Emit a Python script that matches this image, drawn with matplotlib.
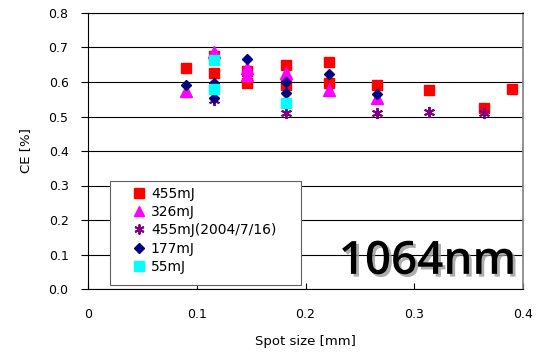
import numpy as np
import matplotlib
matplotlib.use('Agg')
from matplotlib import pyplot as plt
from matplotlib import patheffects
from matplotlib.patches import Rectangle

# data
x_455 = [0.090, 0.116, 0.116, 0.146, 0.146, 0.182, 0.182, 0.222, 0.222, 0.266, 0.314, 0.364, 0.390]
y_455 = [0.640, 0.676, 0.627, 0.632, 0.597, 0.649, 0.591, 0.657, 0.598, 0.592, 0.577, 0.524, 0.579]

x_326 = [0.090, 0.116, 0.146, 0.146, 0.182, 0.222, 0.266]
y_326 = [0.575, 0.688, 0.642, 0.620, 0.625, 0.578, 0.555]

x_455old = [0.116, 0.182, 0.266, 0.314, 0.364]
y_455old = [0.548, 0.511, 0.511, 0.514, 0.511]

x_177 = [0.090, 0.116, 0.116, 0.146, 0.182, 0.182, 0.222, 0.266]
y_177 = [0.592, 0.596, 0.554, 0.666, 0.601, 0.567, 0.623, 0.565]

x_55 = [0.116, 0.116, 0.182]
y_55 = [0.664, 0.579, 0.540]

labels = ['455mJ', '326mJ', '455mJ(2004/7/16)', '177mJ', '55mJ']

plt.rcParams['font.family'] = ['DejaVu Sans']

fig = plt.figure(figsize=(5.45, 3.53), dpi=100)
ax = fig.add_axes([88/545, 1-289/353, (523-88)/545, (289-13)/353])

ax.plot(x_455, y_455, ls='none', marker='s', ms=7.5, color='#ff0000', mec='#ff0000', label=labels[0])
ax.plot(x_326, y_326, ls='none', marker='^', ms=8, color='#ff00ff', mec='#ff00ff', label=labels[1])
ax.plot(x_455old, y_455old, ls='none', marker=(6, 2, 0), ms=8, color='#800080', mew=1.4, label=labels[2])
ax.plot(x_177, y_177, ls='none', marker='D', ms=5.5, color='#000080', mec='#000080', label=labels[3])
ax.plot(x_55, y_55, ls='none', marker='s', ms=7.5, color='#00ffff', mec='#00ffff', label=labels[4])

ax.set_xlim(0, 0.4)
ax.set_ylim(0, 0.8)
ax.set_xticks([0, 0.1, 0.2, 0.3, 0.4])
ax.set_xticklabels(['0', '0.1', '0.2', '0.3', '0.4'])
ax.set_yticks(np.arange(0, 0.81, 0.1))
ax.set_yticklabels(['%.1f' % v for v in np.arange(0, 0.81, 0.1)])
ax.yaxis.grid(True, color='black', lw=0.8)
ax.set_axisbelow(True)
ax.tick_params(axis='y', direction='out', length=5, width=0.8, labelsize=9, pad=9)
ax.tick_params(axis='x', direction='in', length=4, width=0.8, labelsize=9, pad=13.5)

for s in ['left', 'bottom', 'top']:
    ax.spines[s].set_color('black')
    ax.spines[s].set_linewidth(0.8)
ax.spines['right'].set_color('#808080')
ax.spines['right'].set_linewidth(1.2)

ax.set_xlabel('Spot size [mm]', fontsize=9.5, labelpad=10)
ax.set_ylabel('CE [%]', fontsize=9.5, labelpad=12)

# legend box drawn separately so it can be wider than its text
box = Rectangle(((110-88)/435, (289-285)/276), (301-110)/435, (285-181)/276,
                transform=ax.transAxes, facecolor='white', edgecolor='#606060',
                lw=0.8, zorder=4)
ax.add_patch(box)
leg = ax.legend(loc='upper left', bbox_to_anchor=((128-88)/435, (289-187)/276),
                fontsize=10, frameon=False, borderpad=0, labelspacing=0.3,
                handletextpad=0.05, handlelength=1.6, borderaxespad=0,
                markerscale=0.9)
leg.set_zorder(5)

ax.text(0.985, 0.015, '1064nm', transform=ax.transAxes, ha='right', va='bottom',
        fontsize=33, family='Open Sans', fontweight='semibold', color='black',
        path_effects=[patheffects.withSimplePatchShadow(offset=(2, -2), shadow_rgbFace='#999999', alpha=0.8)])

fig.savefig('out.png', dpi=100)
